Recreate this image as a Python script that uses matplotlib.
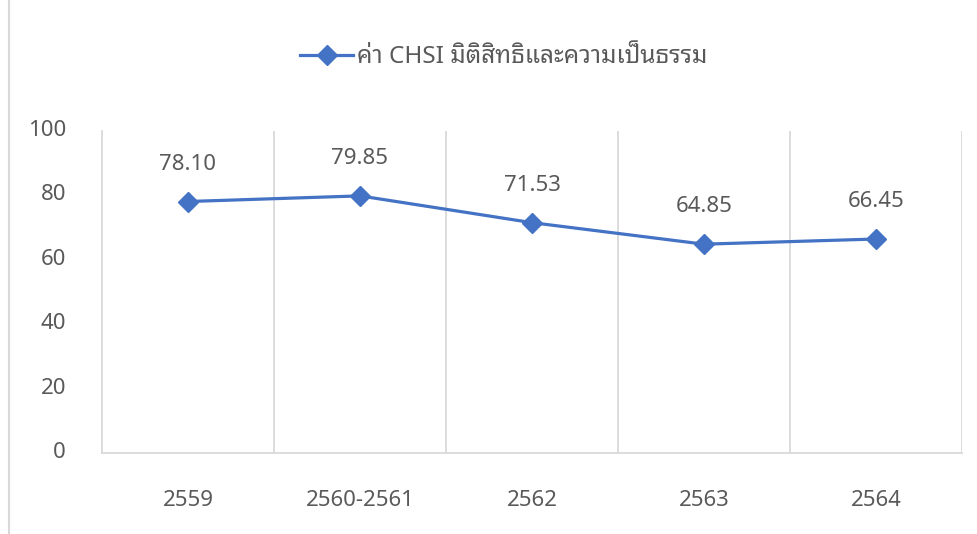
import matplotlib.pyplot as plt
import matplotlib.transforms as mtransforms
from matplotlib.lines import Line2D

# Noto Sans for digits/latin, Thai glyphs fall through to the looped Thai face
plt.rcParams['font.family'] = ['Noto Sans', 'Noto Sans Thai Looped', 'DejaVu Sans']

# data
years = ['2559', '2560-2561', '2562', '2563', '2564']
chsi = [78.10, 79.85, 71.53, 64.85, 66.45]
labels = ['78.10', '79.85', '71.53', '64.85', '66.45']
y_ticks = [0, 20, 40, 60, 80, 100]
series_name = 'ค่า CHSI มิติสิทธิและความเป็นธรรม'

blue = '#4472C4'
grey_txt = '#595959'
grid_col = '#D9D9D9'
fs = 16

fig = plt.figure(figsize=(9.77, 5.34), dpi=100)
ax = fig.add_axes([0.1044, 0.1517, 0.8802, 0.6030])

x = list(range(len(years)))
ax.plot(x, chsi, color=blue, linewidth=2.3, marker='D', markersize=10.5,
        label=series_name, zorder=3)

for xi, v, lab in zip(x, chsi, labels):
    ax.annotate(lab, (xi, v), xytext=(0, 27), textcoords='offset points',
                ha='center', va='center', fontsize=fs, color=grey_txt)

ax.set_xlim(-0.5, len(years) - 0.5)
ax.set_ylim(0, 100)
ax.set_yticks(y_ticks)
ax.set_xticks(x)
ax.set_xticklabels(years)

# vertical gridlines between categories
for b in [i + 0.5 for i in range(len(years))]:
    ax.axvline(b, color=grid_col, linewidth=1.3, zorder=0)

for side in ['top', 'right']:
    ax.spines[side].set_visible(False)
ax.spines['left'].set_color(grid_col)
ax.spines['bottom'].set_color(grid_col)
ax.spines['left'].set_linewidth(1.3)
ax.spines['bottom'].set_linewidth(1.3)

ax.tick_params(axis='both', length=0, labelsize=fs, colors=grey_txt)
ax.tick_params(axis='y', pad=26)
ax.tick_params(axis='x', pad=27)

# excel puts the value labels a touch above the tick
shift = mtransforms.ScaledTranslation(0, 3 / 100, fig.dpi_scale_trans)
for lbl in ax.get_yticklabels():
    lbl.set_transform(lbl.get_transform() + shift)

leg = fig.legend(loc='center', bbox_to_anchor=(0.5154, 0.893), frameon=False,
                 fontsize=17.5, handlelength=2.2, handletextpad=0.15)
for t in leg.get_texts():
    t.set_color(grey_txt)

# chart border at left
fig.add_artist(Line2D([0.0095, 0.0095], [0, 1], transform=fig.transFigure,
                      color=grid_col, linewidth=1.5))

fig.savefig('out.png', dpi=100)
